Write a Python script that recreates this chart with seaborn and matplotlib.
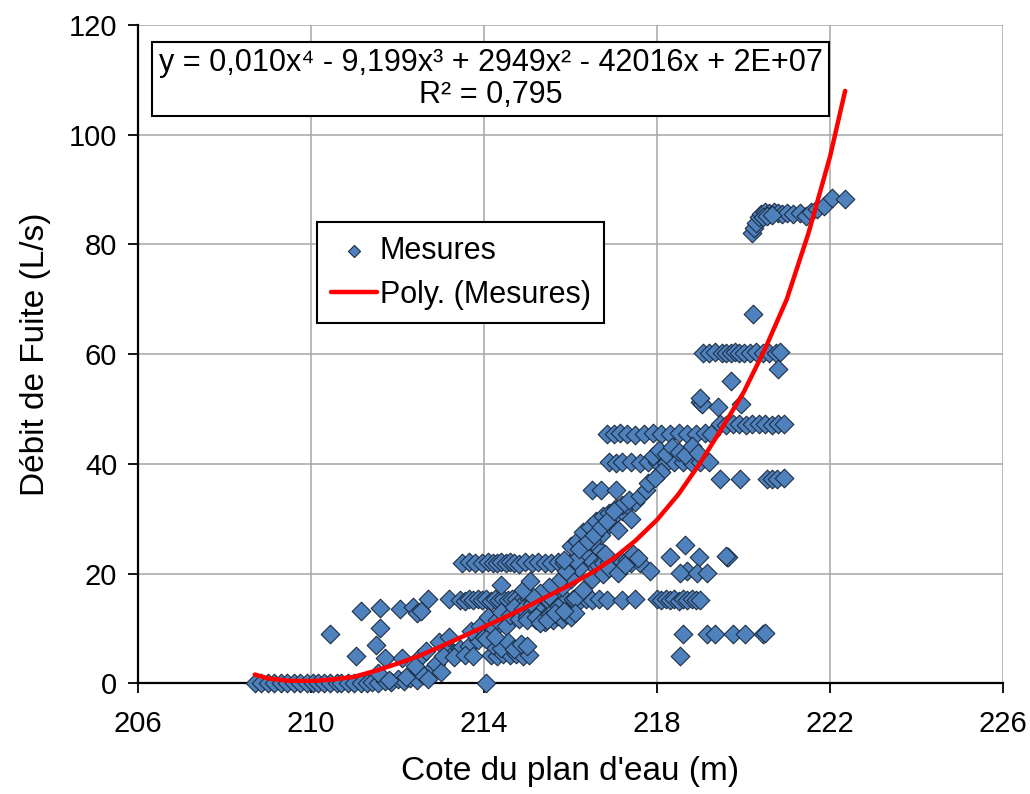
import numpy as np
import pandas as pd
import matplotlib
matplotlib.use('Agg')
import matplotlib.pyplot as plt
import seaborn as sns

# ---------------- data ----------------
zero_x = [208.7, 208.85, 209.0, 209.15, 209.3, 209.45, 209.6, 209.75, 209.9, 210.05,
          210.15, 210.3, 210.45, 210.6, 210.7, 210.85, 211.0, 211.15, 211.3, 211.4,
          211.55, 211.7, 211.85, 212.0, 212.15, 212.3, 212.45, 214.05]
zero_y = [0, 0, 0, 0, 0, 0, 0, 0, 0, 0, 0, 0, 0, 0, 0, 0, 0, 0, 0, 0.3,
          0, 0.5, 0.2, 0.8, 0.4, 1.0, 0.6, 0]

low_x = [210.45, 211.15, 211.6, 211.6, 211.5, 211.05, 211.7, 211.55, 211.8, 212.1,
         212.05, 212.35, 212.45, 212.55, 212.2, 212.5, 212.65, 212.8, 212.5, 212.6,
         212.7, 212.4, 212.9, 213.0, 213.15, 213.3, 213.45, 213.65, 213.85, 213.05,
         213.3, 213.55, 213.75, 212.95, 213.2]
low_y = [9.0, 13.2, 13.7, 10.0, 7.0, 5.0, 4.6, 1.8, 0.6, 4.6,
         13.5, 14.0, 12.8, 13.2, 1.2, 4.6, 5.8, 2.7, 2.2, 1.5,
         0.8, 3.2, 3.5, 2.0, 6.7, 5.5, 6.2, 6.8, 7.9, 4.9,
         4.8, 5.1, 4.9, 7.5, 8.5]

row15_x = [212.7, 213.2, 213.45, 213.55, 213.65, 213.75, 213.85, 213.95, 214.05, 214.15,
           214.25, 214.35, 214.45, 214.55, 214.65, 214.75, 214.85, 214.95, 215.05, 215.15,
           215.3, 215.45, 215.6, 215.75, 215.9, 216.05, 216.2, 216.35, 216.5, 216.65,
           216.85, 217.2, 217.5, 218.0, 218.1, 218.2, 218.3, 218.4, 218.5, 218.6,
           218.7, 218.8, 218.9, 219.0]
row15_y = [15.4, 15.4, 15.2, 15.0, 15.3, 15.1, 15.4, 15.2, 15.3, 15.0,
           15.4, 15.2, 15.3, 15.1, 15.4, 15.3, 15.2, 15.0, 15.3, 15.4,
           15.2, 15.3, 15.1, 15.4, 15.2, 15.3, 15.0, 15.3, 15.2, 15.4,
           15.2, 15.2, 15.3, 15.3, 15.1, 15.4, 15.2, 15.3, 15.0, 15.3,
           15.2, 15.4, 15.1, 15.2]

row22_x = [213.5, 213.65, 213.8, 213.95, 214.1, 214.2, 214.3, 214.4, 214.5, 214.6,
           214.7, 214.8, 214.95, 215.1, 215.25, 215.4, 215.55, 215.7, 215.85, 216.0,
           216.15, 216.3, 216.45, 216.6, 216.75, 216.9, 217.05, 217.2, 217.4, 217.6]
row22_y = [22.0, 22.1, 21.9, 22.0, 22.2, 22.0, 21.9, 22.1, 22.0, 22.2,
           22.0, 21.8, 22.1, 22.0, 22.2, 21.9, 22.0, 22.1, 22.0, 22.2,
           21.9, 22.0, 22.1, 22.0, 21.9, 22.2, 22.0, 22.1, 22.0, 21.9]

diag_x = [213.7, 213.9, 214.0, 214.1, 214.2, 214.3, 214.4, 214.5, 214.6, 214.7,
          214.8, 214.9, 215.0, 215.1, 215.2, 215.3, 215.4, 215.5, 215.6, 215.7,
          215.8, 215.9, 216.0, 216.1, 216.2, 216.3, 216.4, 216.5, 216.6, 216.7,
          216.8, 216.9, 217.0, 217.1, 217.2, 217.3, 217.4, 217.5, 216.5, 216.3,
          216.1, 215.9, 215.7, 215.5, 215.3, 215.1, 214.9, 214.4, 215.07, 215.85,
          216.0, 216.15, 216.3, 216.45, 216.6, 216.75, 216.9, 217.05, 217.2, 217.35,
          216.2, 216.4, 216.55, 216.7, 216.85, 217.0]
diag_y = [9.5, 10.5, 8.5, 12.0, 9.8, 11.5, 13.0, 10.5, 12.5, 14.0,
          11.8, 13.5, 12.0, 14.5, 11.5, 13.0, 12.0, 16.0, 12.5, 14.0,
          17.5, 13.0, 19.0, 15.5, 21.0, 17.0, 23.0, 19.0, 25.0, 27.0,
          23.5, 29.0, 30.5, 28.0, 31.5, 32.5, 30.0, 33.0, 26.0, 24.0,
          22.5, 20.5, 18.5, 17.5, 16.5, 16.0, 17.0, 18.0, 18.6, 22.5,
          25.0, 26.0, 27.5, 28.5, 29.5, 30.5, 31.0, 32.0, 32.5, 33.5,
          24.5, 26.0, 27.0, 28.5, 29.5, 31.5]

dense_x = [215.0, 215.2, 215.4, 215.5, 215.6, 215.7, 215.8, 215.9, 216.0, 216.1,
           215.3, 215.45, 215.65, 215.85, 214.15, 214.3, 214.45, 214.6, 214.75, 214.9,
           215.05, 214.2, 214.4, 214.55, 214.7, 214.85, 215.0, 214.05, 214.25]
dense_y = [11.5, 12.0, 11.2, 12.5, 11.5, 12.2, 11.8, 12.6, 12.0, 12.8,
           11.0, 11.6, 12.9, 13.2, 5.2, 5.0, 5.4, 5.1, 5.3, 5.0,
           5.2, 7.0, 6.5, 7.5, 6.2, 7.2, 6.8, 8.0, 8.5]

mid_x = [216.85, 217.0, 217.15, 217.3, 217.5, 217.7, 217.9, 218.1, 218.3, 218.5,
         218.7, 218.9, 219.1, 219.25,
         216.9, 217.05, 217.2, 217.4, 217.6, 217.8, 218.0, 218.2, 218.4, 218.6,
         218.8, 219.0, 219.2,
         216.5, 216.7, 217.05, 217.6, 217.75, 217.8,
         217.9, 218.05, 218.2, 218.35, 218.5, 218.65, 218.8, 218.95, 218.1, 217.95,
         219.0, 219.05, 219.4, 219.95, 219.7, 219.0]
mid_y = [45.5, 45.4, 45.6, 45.5, 45.3, 45.5, 45.6, 45.4, 45.5, 45.6,
         45.4, 45.5, 45.6, 45.4,
         40.3, 40.2, 40.4, 40.3, 40.1, 40.3, 40.4, 40.2, 40.3, 40.4,
         40.2, 40.3, 40.4,
         35.3, 35.3, 35.3, 34.1, 35.3, 36.6,
         41.5, 42.5, 41.8, 43.0, 42.2, 41.6, 43.2, 42.0, 38.5, 37.5,
         51.2, 51.0, 50.3, 51.0, 55.1, 52.1]

right_x = [219.45, 219.6, 219.75, 219.9, 220.05, 220.2, 220.35, 220.5, 220.65, 220.8,
           220.93,
           219.46, 219.93, 220.54, 220.65, 220.77, 220.93,
           219.07, 219.2, 219.35, 219.5, 219.6, 219.7, 219.8, 219.9, 220.0, 220.15,
           220.3, 220.45, 220.6, 220.75, 220.85,
           220.8, 220.23]
right_y = [47.2, 47.1, 47.3, 47.2, 47.1, 47.3, 47.2, 47.2, 47.1, 47.3,
           47.2,
           37.3, 37.3, 37.3, 37.2, 37.3, 37.4,
           60.3, 60.2, 60.4, 60.3, 60.3, 60.2, 60.4, 60.3, 60.3, 60.2,
           60.4, 60.3, 60.2, 60.3, 60.4,
           57.3, 67.3]

top_x = [220.2, 220.25, 220.3, 220.35, 220.4, 220.5, 220.6, 220.7, 220.8, 220.9,
         221.0, 221.15, 221.3, 221.45, 221.55, 221.7, 221.85, 222.05, 222.35, 220.45,
         220.55, 220.65]
top_y = [82.0, 83.0, 84.0, 85.0, 85.5, 86.0, 85.8, 86.0, 85.7, 85.5,
         85.8, 85.5, 85.8, 85.2, 86.0, 86.5, 87.0, 88.4, 88.2, 85.0,
         85.2, 85.4]

lower_x = [217.84, 218.3, 218.65, 218.7, 218.96, 218.54, 218.92, 219.15, 219.62, 219.65,
           219.6, 218.6, 219.15, 219.35, 219.76, 220.03, 220.45, 220.5, 218.54,
           217.3, 217.45, 217.55, 216.75, 216.9, 217.1, 217.25]
lower_y = [20.4, 23.1, 25.3, 20.4, 23.1, 20.2, 20.2, 20.2, 23.1, 23.0,
           23.2, 9.0, 9.0, 9.0, 9.0, 9.0, 9.0, 9.1, 5.0,
           22.5, 23.5, 22.8, 20.0, 21.0, 20.2, 21.5]

# polynomial trendline
trend_x = [208.7, 209.0, 209.5, 210.0, 210.5, 211.0, 211.5, 212.0, 212.5, 213.0,
           213.5, 214.0, 214.5, 215.0, 215.5, 216.0, 216.5, 217.0, 217.5, 218.0,
           218.5, 219.0, 219.5, 220.0, 220.5, 221.0, 221.5, 222.0, 222.35]
trend_y = [1.6, 0.9, 0.45, 0.4, 0.7, 1.2, 2.3, 3.6, 5.0, 6.7,
           8.5, 10.3, 12.1, 14.0, 16.0, 18.0, 20.2, 22.8, 26.0, 29.8,
           34.5, 40.2, 46.5, 53.0, 61.0, 70.0, 82.0, 96.0, 108.0]

x_ticks = [206, 210, 214, 218, 222, 226]
y_ticks = [0, 20, 40, 60, 80, 100, 120]

equation = "y = 0,010x\u2074 - 9,199x\u00b3 + 2949x\u00b2 - 42016x + 2E+07\nR\u00b2 = 0,795"

# ---------------- build table ----------------
xs = zero_x + low_x + row15_x + row22_x + diag_x + dense_x + mid_x + right_x + top_x + lower_x
ys = zero_y + low_y + row15_y + row22_y + diag_y + dense_y + mid_y + right_y + top_y + lower_y
df = pd.DataFrame({"cote": xs, "debit": ys})
trend = pd.DataFrame({"cote": trend_x, "debit": trend_y})

# ---------------- plot ----------------
sns.set_theme(style="white")
plt.rcParams['font.family'] = ['Liberation Sans', 'DejaVu Sans']
plt.rcParams['text.color'] = 'black'
plt.rcParams['axes.labelcolor'] = 'black'
plt.rcParams['xtick.color'] = 'black'
plt.rcParams['ytick.color'] = 'black'

fig = plt.figure(figsize=(10.3, 7.94), dpi=100)
ax = fig.add_axes([0.134, 0.1394, 0.8398, 0.8291])

sns.scatterplot(data=df, x="cote", y="debit", marker="D", s=90,
                color="#4F81BD", edgecolor="#1E2E44", linewidth=0.8,
                ax=ax, label="Mesures", clip_on=False, zorder=3)
sns.lineplot(data=trend, x="cote", y="debit", color="#FF0000", lw=3.2,
             sort=False, ax=ax, label="Poly. (Mesures)", zorder=4)

ax.set_xlim(206, 226)
ax.set_ylim(0, 120)
ax.set_xticks(x_ticks)
ax.set_yticks(y_ticks)
ax.grid(True, color="#A6A6A6", lw=1.1)
ax.set_axisbelow(True)

for s in ["top", "right"]:
    ax.spines[s].set_visible(False)
for s in ["left", "bottom"]:
    ax.spines[s].set_color("black")
    ax.spines[s].set_linewidth(1.6)

ax.tick_params(axis="y", direction="out", length=7, width=1.3, labelsize=21,
               pad=8, left=True, color="black", labelcolor="black")
ax.tick_params(axis="x", direction="out", length=7, width=1.3, labelsize=21,
               pad=12, bottom=True, color="black", labelcolor="black")

ax.set_xlabel("Cote du plan d'eau (m)", fontsize=24, labelpad=13, color="black")
ax.set_ylabel("Débit de Fuite (L/s)", fontsize=24, labelpad=13, color="black")

ax.text(0.4075, 0.918, equation, transform=ax.transAxes, ha="center", va="center",
        fontsize=22, linespacing=1.1, zorder=6, color="black",
        bbox=dict(boxstyle="square,pad=0.2", fc="white", ec="black", lw=1.5))

leg = ax.legend(loc="upper left", bbox_to_anchor=(0.207, 0.7007), frameon=True,
                fancybox=False, edgecolor="black", fontsize=22, markerscale=0.65,
                handlelength=1.5, handletextpad=0.1, borderpad=0.45,
                labelspacing=0.45, borderaxespad=0, framealpha=1)
leg.get_frame().set_linewidth(1.5)
leg.set_zorder(7)
for t in leg.get_texts():
    t.set_color("black")

fig.savefig("out.png", dpi=100)
